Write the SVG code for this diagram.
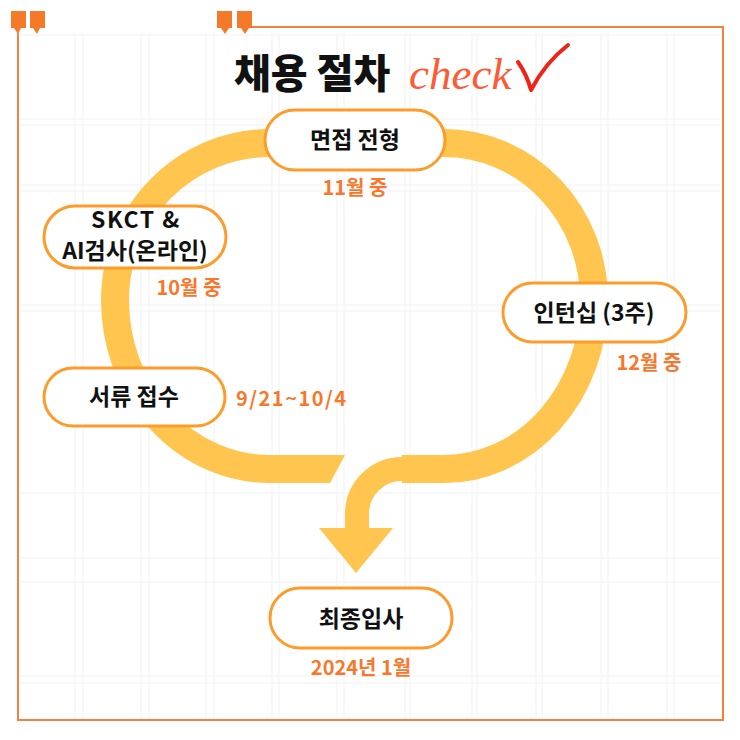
<svg xmlns="http://www.w3.org/2000/svg" width="740" height="740" viewBox="0 0 740 740">
<defs>
<style>
.grid line{stroke:#f6f6f6;stroke-width:1.5}
.frame{stroke:#f2813b;stroke-width:2;fill:none}
.quote{fill:#f47a2a}
.node rect{fill:#fff;stroke:#fd9c2a;stroke-width:3}
.nt{font-family:"Noto Sans CJK KR","Noto Sans",sans-serif;font-weight:700;font-size:23px;fill:#111;text-anchor:middle}
.lb{font-family:"Noto Sans CJK KR","Noto Sans",sans-serif;font-weight:700;font-size:20px;fill:#f7772d}
.band{fill:none;stroke:#ffc54f;stroke-width:28}
</style>
</defs>
<rect width="740" height="740" fill="#fff"/>
<g class="grid">
<line x1="75" y1="33" x2="75" y2="718"/><line x1="83" y1="33" x2="83" y2="718"/>
<line x1="141" y1="33" x2="141" y2="718"/><line x1="149" y1="33" x2="149" y2="718"/>
<line x1="206" y1="33" x2="206" y2="718"/><line x1="214" y1="33" x2="214" y2="718"/>
<line x1="272" y1="33" x2="272" y2="718"/><line x1="279" y1="33" x2="279" y2="718"/>
<line x1="337" y1="33" x2="337" y2="718"/><line x1="344" y1="33" x2="344" y2="718"/>
<line x1="405" y1="33" x2="405" y2="718"/><line x1="410" y1="33" x2="410" y2="718"/>
<line x1="472" y1="33" x2="472" y2="718"/><line x1="477" y1="33" x2="477" y2="718"/>
<line x1="536" y1="33" x2="536" y2="718"/><line x1="542" y1="33" x2="542" y2="718"/>
<line x1="601" y1="33" x2="601" y2="718"/><line x1="608" y1="33" x2="608" y2="718"/>
<line x1="667" y1="33" x2="667" y2="718"/><line x1="674" y1="33" x2="674" y2="718"/>
<line x1="20" y1="35" x2="721" y2="35"/>
<line x1="20" y1="119" x2="721" y2="119"/><line x1="20" y1="125" x2="721" y2="125"/>
<line x1="20" y1="185" x2="721" y2="185"/><line x1="20" y1="191" x2="721" y2="191"/>
<line x1="20" y1="305" x2="721" y2="305"/><line x1="20" y1="311" x2="721" y2="311"/>
<line x1="20" y1="493" x2="721" y2="493"/>
<line x1="20" y1="558" x2="721" y2="558"/><line x1="20" y1="582" x2="721" y2="582"/>
<line x1="20" y1="676" x2="721" y2="676"/><line x1="20" y1="683" x2="721" y2="683"/>
</g>
<path class="frame" d="M252 27 H723 V720 H18 V33"/>
<polygon class="quote" points="11,11 26,11 26,28 21,28 18,34 14,28 11,28"/>
<polygon class="quote" points="30,11 45,11 45,28 40,28 37,34 33,28 30,28"/>
<polygon class="quote" points="217,11 232,11 232,28 229,28 225,34 221,28 217,28"/>
<polygon class="quote" points="237,11 252,11 252,28 249,28 245,34 241,28 237,28"/>
<text x="234" y="88" font-family="'Noto Sans CJK KR',sans-serif" font-weight="900" font-size="40" fill="#111">채용 절차</text>
<text x="409" y="89" font-family="'Liberation Serif',serif" font-style="italic" font-size="45" fill="#fd5a35">check</text>
<path d="M518 62 Q527 75 531 90 Q545 63 568 45" fill="none" stroke="#ee2418" stroke-width="4" stroke-linecap="round" stroke-linejoin="round"/>
<g id="connectors">
<path class="band" d="M330 469 H270 A155 169 0 0 1 115 300 A155 157 0 0 1 270 143 H444 A150 157 0 0 1 594 300 A150 169 0 0 1 444 469 H402"/>
<polygon fill="#ffc54f" points="329,455 345,455 330,483 329,483"/>
<path d="M404 469 A45 45 0 0 0 357 514 V532" fill="none" stroke="#ffc54f" stroke-width="24"/>
<polygon fill="#ffc54f" points="319,528 393,528 356,573"/>
</g>
<g id="n-interview" class="node"><rect x="265" y="110" width="180" height="60" rx="30"/><text class="nt" x="355" y="148">면접 전형</text></g>
<g id="n-skct" class="node"><rect x="44" y="206" width="182" height="62" rx="31"/><text class="nt" x="136" y="228" font-size="21" letter-spacing="1.5">SKCT &amp;</text><text class="nt" x="135" y="259" font-size="21">AI검사(온라인)</text></g>
<g id="n-docs" class="node"><rect x="44" y="368" width="181" height="58" rx="29"/><text class="nt" x="134" y="405">서류 접수</text></g>
<g id="n-intern" class="node"><rect x="503" y="283" width="183" height="59" rx="29.5"/><text class="nt" x="594" y="321">인턴십 (3주)</text></g>
<g id="n-final" class="node"><rect x="270" y="588" width="182" height="60" rx="30"/><text class="nt" x="361" y="627">최종입사</text></g>
<g id="labels">
<text class="lb" x="355" y="195" text-anchor="middle">11월 중</text>
<text class="lb" x="189" y="295" text-anchor="middle">10월 중</text>
<text class="lb" x="236" y="406" letter-spacing="1.5">9/21~10/4</text>
<text class="lb" x="649" y="370" text-anchor="middle">12월 중</text>
<text class="lb" x="361" y="675" text-anchor="middle" font-size="21">2024년 1월</text>
</g>
</svg>
